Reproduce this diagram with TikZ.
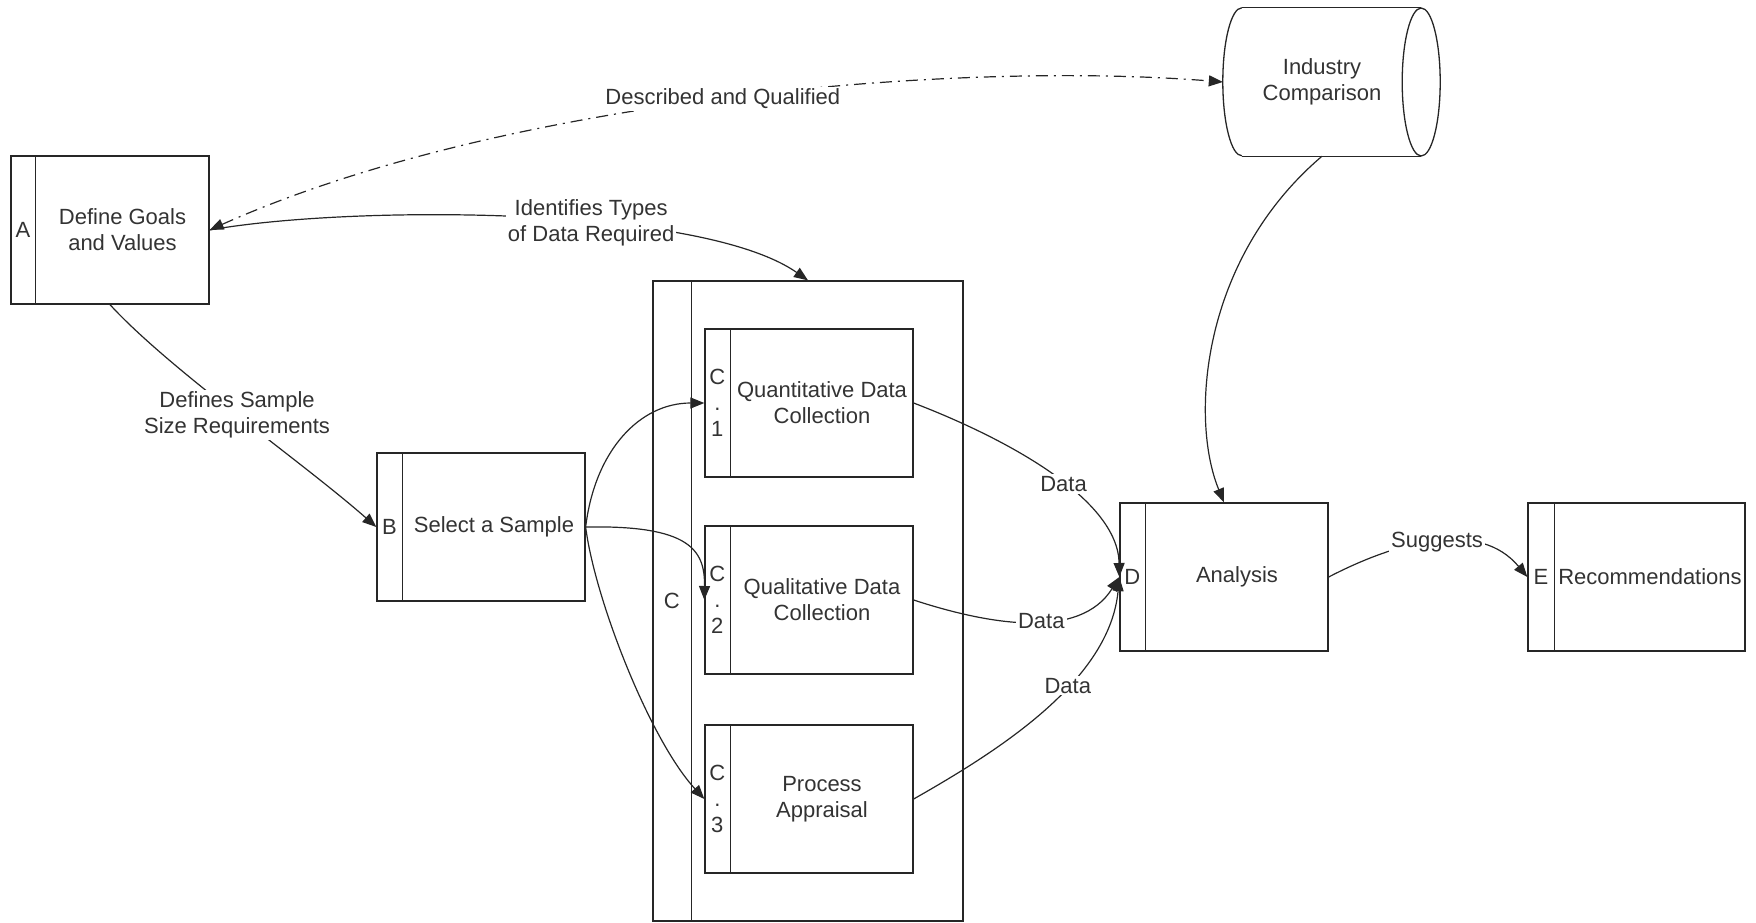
\documentclass[tikz,border=0pt]{standalone}
\usepackage{fontspec}
\setmainfont{Liberation Sans}
\usetikzlibrary{calc,arrows.meta}

\tikzset{
  box/.style={draw=black!85, line width=1.3pt, rectangle, inner sep=0pt},
  txt/.style={font=\fontsize{22}{26}\selectfont, text=black!80, align=center, inner sep=0pt},
  lbl/.style={txt, fill=white, inner sep=2pt},
  link/.style={draw=black!85, line width=1.2pt},
  arr/.style={link, -{Triangle[length=14pt,width=11pt]}},
  dd/.style={link, dash pattern=on 12pt off 6pt on 2pt off 6pt,
    {Triangle[length=14pt,width=11pt]}-{Triangle[length=14pt,width=11pt]}},
}

\begin{document}
\begin{tikzpicture}[x=1pt, y=-1pt]
    \useasboundingbox (0,0) rectangle (1756,922);

    % A: goals
    \node[box, minimum width=198, minimum height=148] (goals) at (110,230) {};
    \draw[box] ($(goals.north west)+(25,0)$) -- ($(goals.south west)+(25,0)$);
    \node[txt] at ($(goals.west)+(12.5,0)$) {A};
    \node[txt] at ($(goals.center)+(12.5,0)$) {Define Goals\\and Values};

    % B: sample
    \node[box, minimum width=208, minimum height=148] (sample) at (481,527) {};
    \draw[box] ($(sample.north west)+(26,0)$) -- ($(sample.south west)+(26,0)$);
    \node[txt] at ($(sample.west)+(13,0)$) {B};
    \node[txt] at ($(sample.center)+(13,0)$) {Select a Sample};

    % C: collection, with its three parts
    \node[box, minimum width=310, minimum height=640] (collect) at (808,601) {};
    \draw[box] ($(collect.north west)+(39,0)$) -- ($(collect.south west)+(39,0)$);
    \node[txt] at ($(collect.west)+(19.5,0)$) {C};
    \foreach \n/\y/\t in {1/403/{Quantitative Data\\Collection},
                          2/600/{Qualitative Data\\Collection},
                          3/799/{Process\\Appraisal}} {
        \node[box, minimum width=208, minimum height=148] (C\n) at (809,\y) {};
        \draw[box] ($(C\n.north west)+(26,0)$) -- ($(C\n.south west)+(26,0)$);
        \node[txt] at ($(C\n.west)+(13,0)$) {C\\.\\\n};
        \node[txt] at ($(C\n.center)+(13,0)$) {\t};
    }

    % D: analysis
    \node[box, minimum width=208, minimum height=148] (analysis) at (1224,577) {};
    \draw[box] ($(analysis.north west)+(26,0)$) -- ($(analysis.south west)+(26,0)$);
    \node[txt] at ($(analysis.west)+(13,0)$) {D};
    \node[txt] at ($(analysis.center)+(13,0)$) {Analysis};

    % E: recommendations
    \node[box, minimum width=217, minimum height=148] (recs) at (1636.5,577) {};
    \draw[box] ($(recs.north west)+(27,0)$) -- ($(recs.south west)+(27,0)$);
    \node[txt] at ($(recs.west)+(13.5,0)$) {E};
    \node[txt] at ($(recs.center)+(13.5,0)$) {Recommendations};

    % industry comparison (stored data)
    \node[txt, minimum width=198, minimum height=148] (industry) at (1322,82) {Industry\\Comparison};
    \draw[box] ($(industry.north west)+(19,0)$) -- (industry.north east);
    \draw[box] ($(industry.south west)+(19,0)$) -- (industry.south east);
    \draw[box] ($(industry.north west)+(19,0)$) arc[start angle=270, end angle=90, x radius=19, y radius=74];
    \draw[box] (industry.east) ellipse[x radius=19, y radius=74];

    % connectors
    \draw[dd] (goals.east) .. controls (500,100) and (950,60) .. node[lbl, pos=0.5] {Described and Qualified} (industry.west);
    \draw[arr] (goals.east) .. controls (350,205) and (700,205) .. node[lbl, pos=0.6] {Identifies Types\\of Data Required} (collect.north);
    \draw[arr] (goals.south) .. controls (170,370) and (300,460) .. node[lbl] {Defines Sample\\Size Requirements} (sample.west);

    \draw[arr] (sample.east) .. controls (595,450) and (640,403) .. (C1.west);
    \draw[arr] (sample.east) .. controls (690,525) and (705,550) .. (C2.west);
    \draw[arr] (sample.east) .. controls (595,600) and (650,740) .. (C3.west);

    \draw[arr] (C1.east) .. controls (1010,440) and (1118,500) .. node[lbl, pos=0.55] {Data} (analysis.west);
    \draw[arr] (C2.east) .. controls (990,625) and (1080,640) .. node[lbl, pos=0.55] {Data} (analysis.west);
    \draw[arr] (C3.east) .. controls (1000,750) and (1110,680) .. node[lbl, pos=0.6] {Data} (analysis.west);

    \draw[arr] (industry.south) .. controls (1200,260) and (1190,420) .. (analysis.north);
    \draw[arr] (analysis.east) .. controls (1400,540) and (1480,520) .. node[lbl] {Suggests} (recs.west);
\end{tikzpicture}
\end{document}
